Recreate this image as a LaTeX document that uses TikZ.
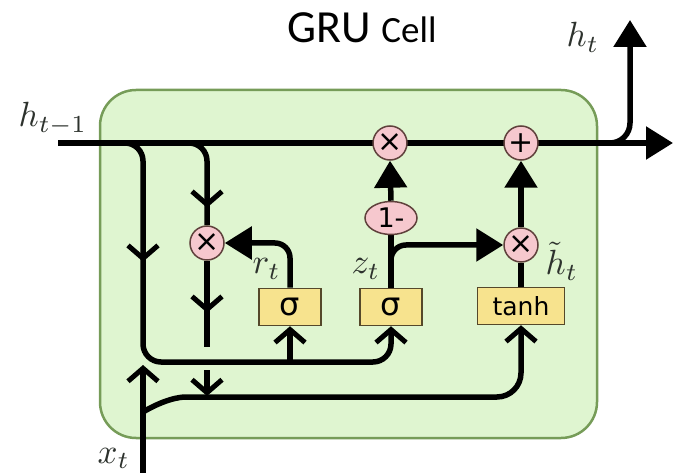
\documentclass[tikz,border=0pt]{standalone}
\usepackage{fontspec}
\newfontfamily\titlefont{Carlito}
\newfontfamily\opfont{DejaVu Sans}
\usetikzlibrary{arrows.meta,decorations.markings,shapes.geometric}
\pgfdeclarelayer{bg}
\pgfdeclarelayer{wires}
\pgfsetlayers{bg,wires,main}
\definecolor{cellfill}{RGB}{223,245,208}
\definecolor{celldraw}{RGB}{118,156,88}
\definecolor{opfill}{RGB}{246,200,206}
\definecolor{opdraw}{RGB}{95,65,60}
\definecolor{gatefill}{RGB}{247,227,142}
\definecolor{gatedraw}{RGB}{85,72,42}
\definecolor{lbl}{RGB}{45,50,45}
\tikzset{
  chev/.tip={Straight Barb[length=13pt,width=30pt,line width=5pt]},
  filltip/.tip={Triangle[length=27pt,width=32pt]},
  wire/.style={line width=5.5pt, line cap=butt, black},
  tri/.style={-filltip},
  chevend/.style={-chev},
  chevmark/.style={postaction={decorate}, decoration={markings, mark=at position #1 with {\arrow{chev}}}},
  op/.style={circle, draw=opdraw, fill=opfill, line width=1.5pt, minimum size=34pt, inner sep=0pt, font=\opfont\fontsize{30}{30}\selectfont},
  onebox/.style={ellipse, draw=opdraw, fill=opfill, line width=1.5pt, minimum width=52pt, minimum height=33pt, inner sep=0pt, font=\opfont\fontsize{27}{27}\selectfont},
  gatebox/.style={rectangle, draw=gatedraw, fill=gatefill, line width=1.5pt, minimum height=37pt, inner sep=0pt, font=\opfont\fontsize{25}{25}\selectfont},
  lab/.style={text=lbl, font=\fontsize{10}{10}\selectfont, inner sep=0pt, scale=3.5},
  cellbox/.style={draw=celldraw, fill=cellfill, line width=2.5pt, rounded corners=36pt, inner sep=0pt}
}
\begin{document}
\begin{tikzpicture}[x=1pt,y=-1pt]
\useasboundingbox (0,0) rectangle (675,473);
% title
\node[anchor=base, inner sep=0pt] (title) at (362,43) {\titlefont\fontsize{46}{46}\selectfont GRU \fontsize{37}{37}\selectfont Cell};
% cell body
\begin{pgfonlayer}{bg}
\node[cellbox, minimum width=497pt, minimum height=348pt] (cell) at (348.5,264) {};
\end{pgfonlayer}
% operation nodes
\node[op] (xtop) at (390,143) {×};
\node[op] (plus) at (521,143) {+};
\node[op] (xr) at (207,243) {×};
\node[op] (xh) at (521,245) {×};
\node[onebox] (onem) at (391,218) {1-};
\node[gatebox, minimum width=62pt] (sig1) at (290,307) {\fontsize{32}{32}\selectfont σ};
\node[gatebox, minimum width=62pt] (sig2) at (391,307) {\fontsize{32}{32}\selectfont σ};
\node[gatebox, minimum width=87pt] (tanh) at (521,306) {tanh};
% labels
\node[lab, anchor=base west] (lhin) at (18,127) {$h_{t-1}$};
\node[lab, anchor=base west] (lxt) at (97,463) {$x_t$};
\node[lab, anchor=base west] (lht) at (566,47) {$h_t$};
\node[lab, anchor=base west] (lrt) at (252,274) {$r_t$};
\node[lab, anchor=base west] (lzt) at (351,274) {$z_t$};
\node[lab, anchor=base west] (lhh) at (545,275) {$\tilde{h}_t$};
% coordinates
\coordinate (hstart) at (58,143);
\coordinate (hend) at (673,143);
\coordinate (hsplit) at (602,143);
\coordinate (htop) at (630,20);
\coordinate (b1) at (118,143);
\coordinate (b2) at (180,143);
\coordinate (jl) at (143,362);
\coordinate (j1) at (290,362);
\coordinate (xin) at (143,473);
\coordinate (xtip) at (143,365);
\coordinate (xlow) at (143,412);
\coordinate (rgapa) at (207,347);
\coordinate (rgapb) at (207,370);
\coordinate (rend) at (207,396);
\coordinate (zsplit) at (391,272);
\begin{pgfonlayer}{wires}
\draw[wire, tri] (hstart) -- (hend);
\draw[wire, tri, rounded corners=20pt] (hsplit) -| (htop);
\draw[wire, chevend, chevmark=136pt, rounded corners=18pt] (b1) -| (jl) -| (sig2.south);
\draw[wire, chevend] (j1) -- (sig1.south);
\draw[wire, tri, rounded corners=15pt] (sig1.north) |- (xr.east);
\draw[wire, chevmark=84pt, rounded corners=18pt] (b2) -| (xr.north);
\draw[wire, chevmark=52pt] (xr.south) -- (rgapa);
\draw[wire, chevend] (rgapb) -- (rend);
\draw[wire, chevend] (xin) -- (xtip);
\draw[wire, chevend, rounded corners=24pt] (xlow) .. controls (165,399) and (180,397) .. (210,397) -| (tanh.south);
\draw[wire] (sig2.north) -- (onem.south);
\draw[wire, tri, rounded corners=15pt] (zsplit) |- (xh.west);
\draw[wire, tri] (onem.north) -- (xtop.south);
\draw[wire] (tanh.north) -- (xh.south);
\draw[wire, tri] (xh.north) -- (plus.south);
\end{pgfonlayer}
\end{tikzpicture}
\end{document}
